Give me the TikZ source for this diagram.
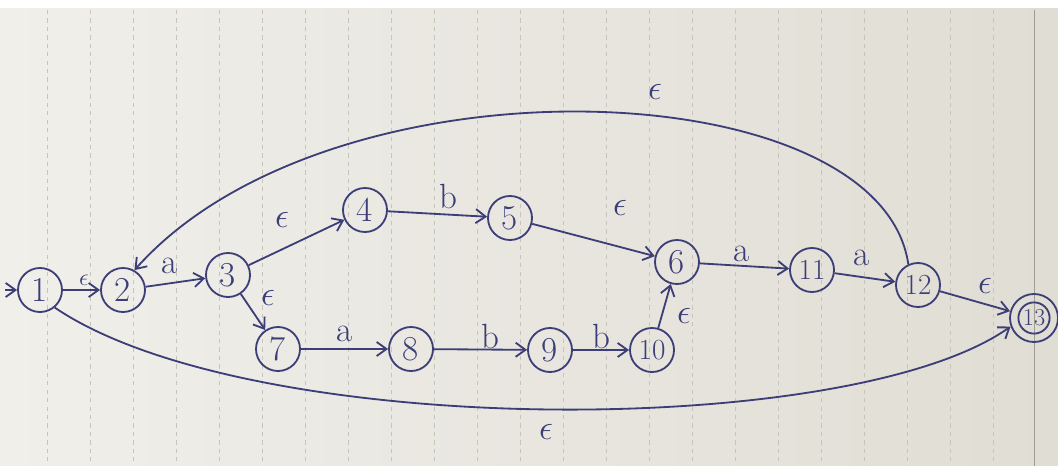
\documentclass[tikz,border=0pt]{standalone}
\usetikzlibrary{arrows.meta}
\definecolor{ink}{RGB}{60,62,120}
\definecolor{paperL}{RGB}{240,239,234}
\definecolor{paperR}{RGB}{224,221,212}
\definecolor{rule}{RGB}{200,196,188}
\begin{document}
\begin{tikzpicture}[x=0.025cm,y=-0.025cm,
  st/.style={circle, draw=ink, line width=1.3pt, minimum size=1.1cm, inner sep=0pt, font=\Huge, text=ink},
  ed/.style={draw=ink, line width=1.3pt, -{Straight Barb[length=7pt,width=10pt]}},
  lb/.style={font=\Huge, text=ink}]
% paper
\useasboundingbox (0,0) rectangle (1058,466);
\shade[left color=paperL, right color=paperR] (0,8) rectangle (1058,466);
\fill[white] (0,0) rectangle (1058,8);
\foreach \i in {0,...,22} {
  \draw[rule, dashed, line width=0.5pt] ({47+43*\i},10) -- ({47+43*\i},466);
}
\draw[rule!80!black, line width=0.6pt] (1034,10) -- (1034,466);
% states
\node[st] (n1) at (40,290) {1};
\node[st] (n2) at (123,290) {2};
\node[st] (n3) at (228,275) {3};
\node[st] (n4) at (365,210) {4};
\node[st] (n5) at (510,218) {5};
\node[st] (n6) at (677,262) {6};
\node[st] (n7) at (278,349) {7};
\node[st] (n8) at (411,349) {8};
\node[st] (n9) at (550,350) {9};
\node[st, font=\huge] (n10) at (652,350) {10};
\node[st, font=\huge] (n11) at (812,270) {11};
\node[st, font=\huge] (n12) at (918,285) {12};
\node[st, minimum size=1.2cm] (n13) at (1034,318) {};
\node[st, minimum size=0.78cm, font=\LARGE] (n13i) at (n13) {13};
\coordinate (s0) at (5,290);
% edges
\draw[ed] (s0) -- (n1);
\draw[ed] (n1) -- (n2);
\draw[ed] (n2) -- (n3);
\draw[ed] (n3) -- (n4);
\draw[ed] (n3) -- (n7);
\draw[ed] (n4) -- (n5);
\draw[ed] (n5) -- (n6);
\draw[ed] (n7) -- (n8);
\draw[ed] (n8) -- (n9);
\draw[ed] (n9) -- (n10);
\draw[ed] (n10) -- (n6);
\draw[ed] (n6) -- (n11);
\draw[ed] (n11) -- (n12);
\draw[ed] (n12) -- (n13);
\draw[ed] (n12.115) .. controls (880,70) and (330,50) .. (n2.60);
\draw[ed] (n1.-50) .. controls (250,440) and (850,440) .. (n13.200);
% labels
\node[lb, font=\LARGE] (l12) at (84,280) {$\epsilon$};
\node[lb] (l23) at (170,266) {a};
\node[lb] (l34) at (282,220) {$\epsilon$};
\node[lb] (l37) at (268,298) {$\epsilon$};
\node[lb] (l45) at (448,196) {b};
\node[lb] (l56) at (620,208) {$\epsilon$};
\node[lb] (l78) at (345,334) {a};
\node[lb] (l89) at (490,336) {b};
\node[lb] (l910) at (601,336) {b};
\node[lb] (l106) at (684,316) {$\epsilon$};
\node[lb] (l611) at (742,254) {a};
\node[lb] (l1112) at (862,258) {a};
\node[lb] (l1213) at (985,286) {$\epsilon$};
\node[lb] (ltop) at (655,92) {$\epsilon$};
\node[lb] (lbot) at (546,432) {$\epsilon$};
\end{tikzpicture}
\end{document}
